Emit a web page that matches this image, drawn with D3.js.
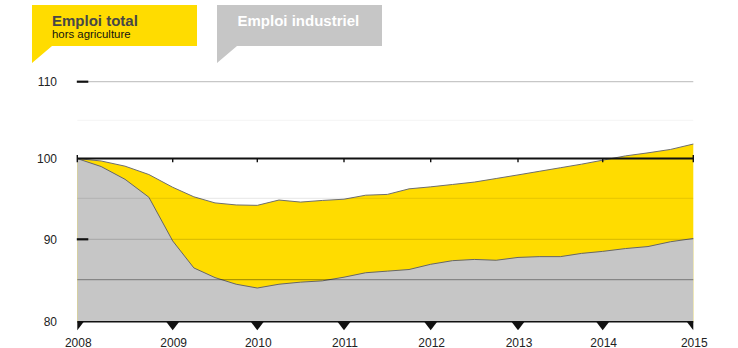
<!DOCTYPE html>
<html>
<head>
<meta charset="utf-8">
<script src="https://cdn.jsdelivr.net/npm/d3@7"></script>
<style>
  html, body { margin: 0; padding: 0; background: #fff; }
  svg { display: block; font-family: "Liberation Sans", Arial, Helvetica, sans-serif; }
</style>
</head>
<body>
<svg id="chart" width="738" height="348"></svg>
<script>
// Quarterly index, base 100 = 2008 Q1
const quarters = [
  "2008-T1","2008-T2","2008-T3","2008-T4",
  "2009-T1","2009-T2","2009-T3","2009-T4",
  "2010-T1","2010-T2","2010-T3","2010-T4",
  "2011-T1","2011-T2","2011-T3","2011-T4",
  "2012-T1","2012-T2","2012-T3","2012-T4",
  "2013-T1","2013-T2","2013-T3","2013-T4",
  "2014-T1","2014-T2","2014-T3","2014-T4",
  "2015-T1"
];
// Emploi total hors agriculture
const totalValues = [
  100.0, 99.7, 99.05, 98.0,
  96.4, 95.2, 94.45, 94.2,
  94.15, 94.8, 94.55, 94.75,
  94.9, 95.4, 95.5, 96.2,
  96.45, 96.75, 97.05, 97.5,
  97.95, 98.4, 98.85, 99.3,
  99.8, 100.35, 100.75, 101.2,
  101.9
];
// Emploi industriel
const industryValues = [
  100.0, 99.0, 97.4, 95.15,
  89.8, 86.45, 85.25, 84.45,
  84.0, 84.45, 84.7, 84.85,
  85.3, 85.85, 86.05, 86.25,
  86.9, 87.35, 87.5, 87.4,
  87.75, 87.85, 87.85, 88.25,
  88.5, 88.85, 89.1, 89.7,
  90.1
];
const years = [2008, 2009, 2010, 2011, 2012, 2013, 2014, 2015];
const yLabels = [80, 90, 100, 110];
const gridValues = [85, 90, 95, 105, 110];
const seriesNames = ["Emploi total", "Emploi industriel"];
const seriesSubtitle = "hors agriculture";

const YELLOW = "#FFDC00";
const GREY = "#C6C6C6";

const toYear = q => +q.slice(0, 4) + (+q.slice(6) - 1) / 4;
const rows = quarters.map((q, i) => ({ t: toYear(q), total: totalValues[i], ind: industryValues[i] }));

const svg = d3.select("#chart");

// Year spacing on this axis is not uniform, so both scales are piecewise linear.
const x = d3.scaleLinear()
  .domain(years)
  .range([77.3, 172.7, 257.3, 344, 430.7, 518, 602.7, 693.3]);
const y = d3.scaleLinear()
  .domain([80, 85, 90, 95, 100, 105, 110])
  .range([321.7, 279.6, 239.3, 198.4, 158.6, 120.3, 81.7]);

const x0 = x.range()[0], x1 = x.range()[x.range().length - 1];

// Areas: total down to the baseline, industry on top of it
const areaTotal = d3.area().x(d => x(d.t)).y0(y(80)).y1(d => y(d.total));
const areaInd = d3.area().x(d => x(d.t)).y0(y(80)).y1(d => y(d.ind));
const lineTotal = d3.line().x(d => x(d.t)).y(d => y(d.total));
const lineInd = d3.line().x(d => x(d.t)).y(d => y(d.ind));

svg.append("path").attr("d", areaTotal(rows)).attr("fill", YELLOW);
svg.append("path").attr("d", lineTotal(rows)).attr("fill", "none")
  .attr("stroke", "#6e6e6e").attr("stroke-width", 1);
svg.append("path").attr("d", areaInd(rows)).attr("fill", GREY);
svg.append("path").attr("d", lineInd(rows)).attr("fill", "none")
  .attr("stroke", "#666").attr("stroke-width", 1);

// Gridlines drawn over the areas, translucent
const gridAlpha = { 85: 0.32, 90: 0.13, 95: 0.08, 105: 0.035, 110: 0.22 };
svg.append("g").selectAll("line").data(gridValues).join("line")
  .attr("x1", x0).attr("x2", x1)
  .attr("y1", d => y(d)).attr("y2", d => y(d))
  .attr("stroke", d => `rgba(0,0,0,${gridAlpha[d]})`)
  .attr("stroke-width", 1.2);

// Short dashes on the left for 110 and 90
svg.append("g").selectAll("line").data([110, 90]).join("line")
  .attr("x1", x0 - 0.5).attr("x2", x0 + 11)
  .attr("y1", d => y(d)).attr("y2", d => y(d))
  .attr("stroke", "#111").attr("stroke-width", 2.2);

// Y labels
svg.append("g").selectAll("text").data(yLabels).join("text")
  .attr("x", 57).attr("y", d => y(d)).attr("dy", "0.36em")
  .attr("text-anchor", "end").attr("font-size", 12).attr("fill", "#222")
  .text(d => d);

// Reference line at 100 with small year ticks
const ref = svg.append("g");
ref.append("line").attr("x1", x0).attr("x2", x1)
  .attr("y1", y(100)).attr("y2", y(100))
  .attr("stroke", "#111").attr("stroke-width", 2);
ref.selectAll("line.tk").data(years).join("line").attr("class", "tk")
  .attr("x1", d => x(d)).attr("x2", d => x(d))
  .attr("y1", (d, i) => (i === 0 || i === years.length - 1) ? y(100) - 3.5 : y(100))
  .attr("y2", y(100) + 3.6)
  .attr("stroke", "#111").attr("stroke-width", 1.4);

// Bottom axis with triangular markers
const bottom = svg.append("g");
svg.append("clipPath").attr("id", "plotclip")
  .append("rect").attr("x", x0).attr("y", 0).attr("width", x1 - x0).attr("height", 348);
bottom.append("line").attr("x1", x0).attr("x2", x1)
  .attr("y1", y(80)).attr("y2", y(80))
  .attr("stroke", "#111").attr("stroke-width", 1.6);
bottom.append("g").attr("clip-path", "url(#plotclip)")
  .selectAll("path").data(years).join("path")
  .attr("d", d => {
    const cx = x(d), top = y(80);
    return `M${cx - 6.5},${top} L${cx + 6.5},${top} L${cx},${top + 8.5} Z`;
  })
  .attr("fill", "#111");
bottom.selectAll("text").data(years).join("text")
  .attr("x", d => x(d) + 1).attr("y", 346.5)
  .attr("text-anchor", "middle").attr("font-size", 12).attr("fill", "#222")
  .text(d => d);

// Legend callouts
const legend = svg.append("g");
legend.append("path")
  .attr("d", "M32,5 H197 V46 H52 L32,63 Z").attr("fill", YELLOW);
legend.append("text").attr("x", 52).attr("y", 25.7)
  .attr("font-size", 15).attr("font-weight", "bold").attr("fill", "#474747")
  .text(seriesNames[0]);
legend.append("text").attr("x", 52).attr("y", 37.6)
  .attr("font-size", 11.4).attr("fill", "#111")
  .text(seriesSubtitle);
legend.append("path")
  .attr("d", "M217,5 H382 V46 H237 L217,63 Z").attr("fill", GREY);
legend.append("text").attr("x", 237.5).attr("y", 25.7)
  .attr("font-size", 15).attr("font-weight", "bold").attr("fill", "#fff")
  .text(seriesNames[1]);
</script>
</body>
</html>
